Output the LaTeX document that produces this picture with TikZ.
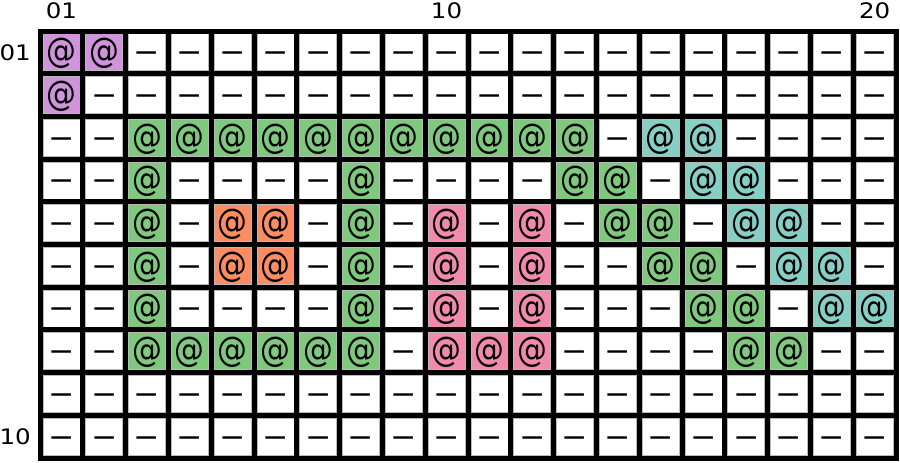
\documentclass[tikz,border=0pt]{standalone}
\usepackage{fontspec}
\usepackage{graphicx}
\setmainfont{DejaVu Sans}
\definecolor{cpurple}{HTML}{CF94DC}
\definecolor{cgreen}{HTML}{7FC97F}
\definecolor{corange}{HTML}{FC8D62}
\definecolor{cpink}{HTML}{F08BAD}
\definecolor{cteal}{HTML}{86CFC4}
% what each cell code prints
\newcommand{\atsign}{\scalebox{0.86}[1]{@}}
\def\symw{\scalebox{1.4}[1]{–}}
\def\symp{\atsign}
\def\symg{\atsign}
\def\symo{\atsign}
\def\symk{\atsign}
\def\symt{\atsign}
\newcommand{\wide}[1]{\scalebox{1.15}[1]{#1}}

\begin{document}
\begin{tikzpicture}[x=0.75pt, y=-0.75pt,
    cell/.style={draw=gray!55, line width=0.6pt, minimum size=27.75pt, inner sep=0pt,
        text height=20pt, text depth=4.4pt, font=\fontsize{26}{26}\selectfont},
    cell w/.style={fill=white},
    cell p/.style={fill=cpurple},
    cell g/.style={fill=cgreen},
    cell o/.style={fill=corange},
    cell k/.style={fill=cpink},
    cell t/.style={fill=cteal},
    gridline/.style={line width=3.75pt, line cap=rect},
    axislabel/.style={inner sep=0pt, font=\fontsize{16}{16}\selectfont}]

    \useasboundingbox (0,0) rectangle (900,462);

    % the cells, one row of codes per line
    \foreach \codes [count=\r] in {
        {p,p,w,w,w,w,w,w,w,w,w,w,w,w,w,w,w,w,w,w},
        {p,w,w,w,w,w,w,w,w,w,w,w,w,w,w,w,w,w,w,w},
        {w,w,g,g,g,g,g,g,g,g,g,g,g,w,t,t,w,w,w,w},
        {w,w,g,w,w,w,w,g,w,w,w,w,g,g,w,t,t,w,w,w},
        {w,w,g,w,o,o,w,g,w,k,w,k,w,g,g,w,t,t,w,w},
        {w,w,g,w,o,o,w,g,w,k,w,k,w,w,g,g,w,t,t,w},
        {w,w,g,w,w,w,w,g,w,k,w,k,w,w,w,g,g,w,t,t},
        {w,w,g,g,g,g,g,g,w,k,k,k,w,w,w,w,g,g,w,w},
        {w,w,w,w,w,w,w,w,w,w,w,w,w,w,w,w,w,w,w,w},
        {w,w,w,w,w,w,w,w,w,w,w,w,w,w,w,w,w,w,w,w}} {
        \foreach \k [count=\c] in \codes {
            \node[cell, cell \k] (c-\r-\c) at ({40+(\c-0.5)*42.8},{31+(\r-0.5)*42.7})
                {\csname sym\k\endcsname};
        }
    }

    % the thick black grid on top
    \foreach \i in {0,...,20}
        \draw[gridline] ({40+\i*42.8},31) -- ({40+\i*42.8},458);
    \foreach \j in {0,...,10}
        \draw[gridline] (40,{31+\j*42.7}) -- (896,{31+\j*42.7});

    % column and row numbers
    \node[axislabel] (col-01) at (61.4,11) {\wide{01}};
    \node[axislabel] (col-10) at (446.6,11) {\wide{10}};
    \node[axislabel] (col-20) at (874.6,11) {\wide{20}};
    \node[axislabel, anchor=east] (row-01) at (31,52.4) {\wide{01}};
    \node[axislabel, anchor=east] (row-10) at (31,436.6) {\wide{10}};
\end{tikzpicture}
\end{document}
